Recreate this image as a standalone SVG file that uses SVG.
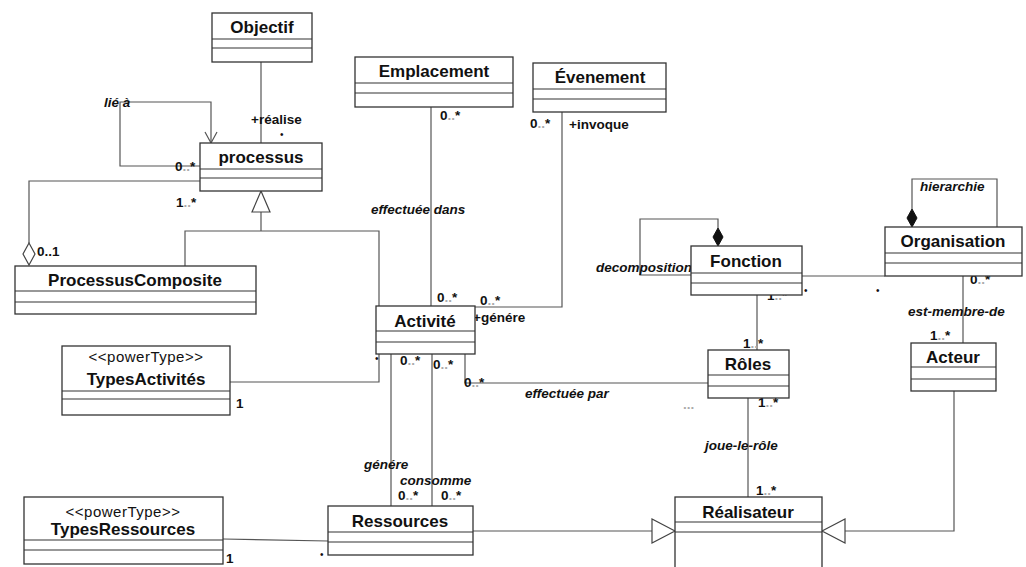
<svg xmlns="http://www.w3.org/2000/svg" width="1026" height="567" viewBox="0 0 1026 567">
<style>
.box{fill:#fff;stroke:#333;stroke-width:1.3}
.dv{stroke:#333;stroke-width:1.2}
.ln{fill:none;stroke:#555;stroke-width:1.2}
.name{font-family:"Liberation Sans",Arial,sans-serif;font-weight:bold;font-size:17px;text-anchor:middle;fill:#111}
.st{font-family:"Liberation Sans",Arial,sans-serif;font-size:15px;letter-spacing:0.5px;text-anchor:middle;fill:#111}
.lbl{font-family:"Liberation Sans",Arial,sans-serif;font-weight:bold;font-size:13.5px;fill:#111}
.dot{font-family:"Liberation Sans",Arial,sans-serif;font-size:10px;fill:#111}
.role{font-family:"Liberation Sans",Arial,sans-serif;font-weight:bold;font-style:italic;font-size:13.5px;fill:#111}
.g{fill:#aaa}
.hollow{fill:#fff;stroke:#444;stroke-width:1.2}
.filled{fill:#111;stroke:#111;stroke-width:1}
</style>
<rect width="1026" height="567" fill="#fff"/>

<g id="connectors">
  <path class="ln" d="M261,62 V143"/>
  <path class="ln" d="M200,166 H120 V102 H211 V143"/>
  <path class="ln" d="M205,132 L211,143 L217,132"/>
  <path class="ln" d="M200,181 H29 V243"/>
  <polygon class="hollow" points="29,243 35,254 29,265 23,254"/>
  <path class="ln" d="M261,212 V231 M185,266 V231 H379 V306"/>
  <polygon class="hollow" points="261,191 270,212 252,212"/>
  <path class="ln" d="M431,107 V306"/>
  <path class="ln" d="M562,112 V307 H475"/>
  <path class="ln" d="M230,382 H379 V354"/>
  <path class="ln" d="M391,354 V506"/>
  <path class="ln" d="M432,354 V506"/>
  <path class="ln" d="M465,354 V383 H708"/>
  <path class="ln" d="M802,276 H885"/>
  <path class="ln" d="M718,228 V219 H640 V275 H691"/>
  <polygon class="filled" points="718,228 723,237 718,246 713,237"/>
  <path class="ln" d="M757,295 V350"/>
  <path class="ln" d="M912,209 V179 H997 V227"/>
  <polygon class="filled" points="912,209 917,218 912,227 907,218"/>
  <path class="ln" d="M963,276 V343"/>
  <path class="ln" d="M748,398 V497"/>
  <path class="ln" d="M954,391 V531 H845"/>
  <polygon class="hollow" points="822,531 845,519 845,543"/>
  <path class="ln" d="M473,531 H652"/>
  <polygon class="hollow" points="675,531 652,519 652,543"/>
  <path class="ln" d="M223,539 L328,541"/>

  <text class="role" x="104" y="107">lié à</text>
  <text class="lbl" x="251" y="124">+réalise</text>
  <text class="dot" x="280" y="138">•</text>
  <text class="lbl" x="175" y="171">0<tspan class="g">..</tspan>*</text>
  <text class="lbl" x="176" y="207">1<tspan class="g">..</tspan>*</text>
  <text class="lbl" x="37" y="256">0..1</text>
  <text class="lbl" x="440" y="120">0<tspan class="g">..</tspan>*</text>
  <text class="lbl" x="530" y="128">0<tspan class="g">..</tspan>*</text>
  <text class="lbl" x="569" y="129">+invoque</text>
  <text class="role" x="371" y="214">effectuée dans</text>
  <text class="lbl" x="437" y="302">0<tspan class="g">..</tspan>*</text>
  <text class="lbl" x="480" y="305">0<tspan class="g">..</tspan>*</text>
  <text class="lbl" x="473" y="322">+génére</text>
  <text class="lbl" x="400" y="365">0<tspan class="g">..</tspan>*</text>
  <text class="lbl" x="433" y="369">0<tspan class="g">..</tspan>*</text>
  <text class="lbl" x="464" y="387">0<tspan class="g">..</tspan>*</text>
  <text class="role" x="525" y="398">effectuée par</text>
  <text class="dot" x="375" y="362">•</text>
  <text class="lbl" x="236" y="408">1</text>
  <text class="role" x="596" y="272">decomposition</text>
  <text class="lbl" x="767" y="300">1<tspan class="g">..</tspan>*</text>
  <text class="dot" x="804" y="294">•</text>
  <text class="dot" x="876" y="294">•</text>
  <text class="role" x="920" y="191">hierarchie</text>
  <text class="lbl" x="970" y="284">0<tspan class="g">..</tspan>*</text>
  <text class="role" x="908" y="316">est-membre-de</text>
  <text class="lbl" x="930" y="340">1<tspan class="g">..</tspan>*</text>
  <text class="lbl" x="743" y="348">1<tspan class="g">..</tspan>*</text>
  <text class="lbl" x="758" y="407">1<tspan class="g">..</tspan>*</text>
  <text class="lbl g" x="683" y="409">...</text>
  <text class="role" x="705" y="450">joue-le-rôle</text>
  <text class="lbl" x="756" y="495">1<tspan class="g">..</tspan>*</text>
  <text class="role" x="364" y="469">génére</text>
  <text class="role" x="400" y="485">consomme</text>
  <text class="lbl" x="398" y="500">0<tspan class="g">..</tspan>*</text>
  <text class="lbl" x="441" y="500">0<tspan class="g">..</tspan>*</text>
  <text class="lbl" x="226" y="563">1</text>
  <text class="dot" x="320" y="558">•</text>
</g>

<g id="objectif">
  <rect class="box" x="212" y="13" width="100" height="49"/>
  <line class="dv" x1="212" y1="39" x2="312" y2="39"/><line class="dv" x1="212" y1="48" x2="312" y2="48"/>
  <text class="name" x="262" y="33">Objectif</text>
</g>
<g id="processus">
  <rect class="box" x="200" y="143" width="122" height="48"/>
  <line class="dv" x1="200" y1="169" x2="322" y2="169"/><line class="dv" x1="200" y1="178" x2="322" y2="178"/>
  <text class="name" x="261" y="163">processus</text>
</g>
<g id="emplacement">
  <rect class="box" x="355" y="57" width="158" height="50"/>
  <line class="dv" x1="355" y1="83" x2="513" y2="83"/><line class="dv" x1="355" y1="93" x2="513" y2="93"/>
  <text class="name" x="434" y="77">Emplacement</text>
</g>
<g id="evenement">
  <rect class="box" x="533" y="63" width="133" height="49"/>
  <line class="dv" x1="533" y1="89" x2="666" y2="89"/><line class="dv" x1="533" y1="99" x2="666" y2="99"/>
  <text class="name" x="600" y="83">Évenement</text>
</g>
<g id="processuscomposite">
  <rect class="box" x="15" y="266" width="241" height="48"/>
  <line class="dv" x1="15" y1="291" x2="256" y2="291"/><line class="dv" x1="15" y1="302" x2="256" y2="302"/>
  <text class="name" x="135" y="286">ProcessusComposite</text>
</g>
<g id="activite">
  <rect class="box" x="376" y="306" width="99" height="48"/>
  <line class="dv" x1="376" y1="331" x2="475" y2="331"/><line class="dv" x1="376" y1="342" x2="475" y2="342"/>
  <text class="name" x="425" y="327">Activité</text>
</g>
<g id="typesactivites">
  <rect class="box" x="62" y="346" width="168" height="69"/>
  <line class="dv" x1="62" y1="391" x2="230" y2="391"/><line class="dv" x1="62" y1="399" x2="230" y2="399"/>
  <text class="st" x="146" y="362">&lt;&lt;powerType&gt;&gt;</text>
  <text class="name" x="146" y="385">TypesActivités</text>
</g>
<g id="fonction">
  <rect class="box" x="691" y="246" width="111" height="49"/>
  <line class="dv" x1="691" y1="273" x2="802" y2="273"/><line class="dv" x1="691" y1="283" x2="802" y2="283"/>
  <text class="name" x="746" y="267">Fonction</text>
</g>
<g id="organisation">
  <rect class="box" x="885" y="227" width="137" height="49"/>
  <line class="dv" x1="885" y1="253" x2="1022" y2="253"/><line class="dv" x1="885" y1="263" x2="1022" y2="263"/>
  <text class="name" x="953" y="247">Organisation</text>
</g>
<g id="roles">
  <rect class="box" x="708" y="350" width="81" height="48"/>
  <line class="dv" x1="708" y1="375" x2="789" y2="375"/><line class="dv" x1="708" y1="386" x2="789" y2="386"/>
  <text class="name" x="748" y="370">Rôles</text>
</g>
<g id="acteur">
  <rect class="box" x="911" y="343" width="85" height="48"/>
  <line class="dv" x1="911" y1="367" x2="996" y2="367"/><line class="dv" x1="911" y1="379" x2="996" y2="379"/>
  <text class="name" x="953" y="363">Acteur</text>
</g>
<g id="realisateur">
  <rect class="box" x="675" y="497" width="147" height="80"/>
  <line class="dv" x1="675" y1="522" x2="822" y2="522"/><line class="dv" x1="675" y1="532" x2="822" y2="532"/>
  <text class="name" x="748" y="518">Réalisateur</text>
</g>
<g id="ressources">
  <rect class="box" x="328" y="506" width="145" height="49"/>
  <line class="dv" x1="328" y1="532" x2="473" y2="532"/><line class="dv" x1="328" y1="542" x2="473" y2="542"/>
  <text class="name" x="400" y="527">Ressources</text>
</g>
<g id="typesressources">
  <rect class="box" x="24" y="497" width="199" height="67"/>
  <line class="dv" x1="24" y1="540" x2="223" y2="540"/><line class="dv" x1="24" y1="550" x2="223" y2="550"/>
  <text class="st" x="123" y="517">&lt;&lt;powerType&gt;&gt;</text>
  <text class="name" x="123" y="535">TypesRessources</text>
</g>
</svg>
